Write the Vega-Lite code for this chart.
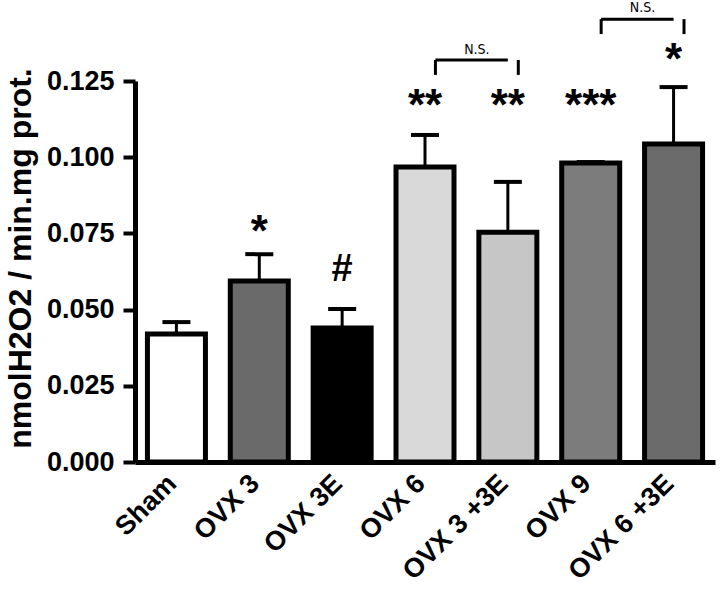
{
  "$schema": "https://vega.github.io/schema/vega-lite/v6.json",
  "width": 580,
  "height": 381,
  "autosize": {"type": "none"},
  "padding": {"left": 135, "top": 81, "right": 5, "bottom": 130},
  "background": "white",
  "config": {
    "view": {"stroke": null},
    "font": "Liberation Sans",
    "axisX": {
      "labelAngle": -45, "labelFontSize": 27, "labelFontWeight": "bold", "labelColor": "black",
      "labelAlign": "right", "labelBaseline": "middle", "labelOffset": -4,
      "domainColor": "black", "domainWidth": 5, "tickColor": "black", "tickWidth": 4, "tickSize": -12,
      "labelPadding": 29, "zindex": 1
    },
    "axisY": {
      "titleFontSize": 32, "titleFontWeight": "bold", "titleColor": "black", "titlePadding": 9, "titleY": 177,
      "labelFontSize": 27, "labelFontWeight": "bold", "labelColor": "black", "labelPadding": 9,
      "domainColor": "black", "domainWidth": 5, "tickColor": "black", "tickWidth": 4, "tickSize": 12,
      "grid": false, "zindex": 1
    }
  },
  "datasets": {
    "bars": [
      {"group": "Sham", "value": 0.0420, "upper": 0.0459},
      {"group": "OVX 3", "value": 0.0594, "upper": 0.0682},
      {"group": "OVX 3E", "value": 0.0440, "upper": 0.0502},
      {"group": "OVX 6", "value": 0.0968, "upper": 0.1073},
      {"group": "OVX 3 +3E", "value": 0.0754, "upper": 0.0919},
      {"group": "OVX 9", "value": 0.0981, "upper": 0.0984},
      {"group": "OVX 6 +3E", "value": 0.1043, "upper": 0.1230}
    ],
    "marks": [
      {"group": "OVX 3", "label": "*", "y": 0.0708, "size": 44},
      {"group": "OVX 3E", "label": "#", "y": 0.0594, "size": 38},
      {"group": "OVX 6", "label": "**", "y": 0.1122, "size": 44},
      {"group": "OVX 3 +3E", "label": "**", "y": 0.1122, "size": 44},
      {"group": "OVX 9", "label": "***", "y": 0.1122, "size": 44},
      {"group": "OVX 6 +3E", "label": "*", "y": 0.1273, "size": 44}
    ],
    "brackets": [
      {"from": "OVX 6", "to": "OVX 3 +3E", "top": 0.1319, "bottom": 0.1270, "textY": 0.1338},
      {"from": "OVX 9", "to": "OVX 6 +3E", "top": 0.1453, "bottom": 0.1404, "textY": 0.1476}
    ]
  },
  "layer": [
    {
      "data": {"name": "bars"},
      "mark": {"type": "rule", "color": "black", "strokeWidth": 3},
      "encoding": {
        "x": {"field": "group", "type": "nominal", "title": null},
        "y": {"field": "value", "type": "quantitative", "title": "nmolH2O2 / min.mg prot."},
        "y2": {"field": "upper"}
      }
    },
    {
      "data": {"name": "bars"},
      "mark": {"type": "tick", "color": "black", "thickness": 4, "size": 28, "opacity": 1},
      "encoding": {
        "x": {"field": "group", "type": "nominal", "title": null},
        "y": {"field": "upper", "type": "quantitative", "title": "nmolH2O2 / min.mg prot."}
      }
    },
    {
      "data": {"name": "bars"},
      "mark": {"type": "bar", "stroke": "black", "strokeWidth": 5, "strokeJoin": "miter"},
      "encoding": {
        "x": {
          "field": "group", "type": "nominal", "title": null,
          "scale": {"domain": ["Sham", "OVX 3", "OVX 3E", "OVX 6", "OVX 3 +3E", "OVX 9", "OVX 6 +3E"], "paddingInner": 0.3, "paddingOuter": 0.15}
        },
        "y": {
          "field": "value", "type": "quantitative", "title": "nmolH2O2 / min.mg prot.",
          "scale": {"domain": [0, 0.125], "nice": false, "zero": true},
          "axis": {"values": [0, 0.025, 0.05, 0.075, 0.1, 0.125], "format": ".3f"}
        },
        "fill": {
          "field": "group", "type": "nominal", "legend": null,
          "scale": {"domain": ["Sham", "OVX 3", "OVX 3E", "OVX 6", "OVX 3 +3E", "OVX 9", "OVX 6 +3E"],
                    "range": ["#ffffff", "#6a6a6a", "#000000", "#d9d9d9", "#c6c6c6", "#7c7c7c", "#6b6b6b"]}
        }
      }
    },
    {
      "data": {"name": "marks"},
      "mark": {"type": "text", "fontWeight": "bold", "color": "black", "baseline": "alphabetic", "align": "center"},
      "encoding": {
        "x": {"field": "group", "type": "nominal", "title": null},
        "y": {"field": "y", "type": "quantitative", "title": "nmolH2O2 / min.mg prot."},
        "text": {"field": "label"},
        "size": {"field": "size", "type": "quantitative", "scale": null, "legend": null}
      }
    },
    {
      "data": {"name": "brackets"},
      "mark": {"type": "rule", "color": "black", "strokeWidth": 3},
      "encoding": {
        "x": {"field": "from", "type": "nominal", "bandPosition": 0.68, "title": null},
        "x2": {"field": "to"},
        "y": {"field": "top", "type": "quantitative", "title": "nmolH2O2 / min.mg prot."}
      }
    },
    {
      "data": {"name": "brackets"},
      "transform": [{"fold": ["from", "to"], "as": ["side", "leg"]}],
      "mark": {"type": "rule", "color": "black", "strokeWidth": 3},
      "encoding": {
        "x": {"field": "leg", "type": "nominal", "bandPosition": 0.68, "title": null},
        "y": {"field": "top", "type": "quantitative", "title": "nmolH2O2 / min.mg prot."},
        "y2": {"field": "bottom"}
      }
    },
    {
      "data": {"name": "brackets"},
      "mark": {"type": "text", "text": "N.S.", "font": "DejaVu Sans Condensed", "fontSize": 14, "color": "black", "baseline": "alphabetic", "align": "center", "dx": -2},
      "encoding": {
        "x": {"field": "to", "type": "nominal", "bandPosition": 0, "title": null},
        "y": {"field": "textY", "type": "quantitative", "title": "nmolH2O2 / min.mg prot."}
      }
    }
  ]
}
